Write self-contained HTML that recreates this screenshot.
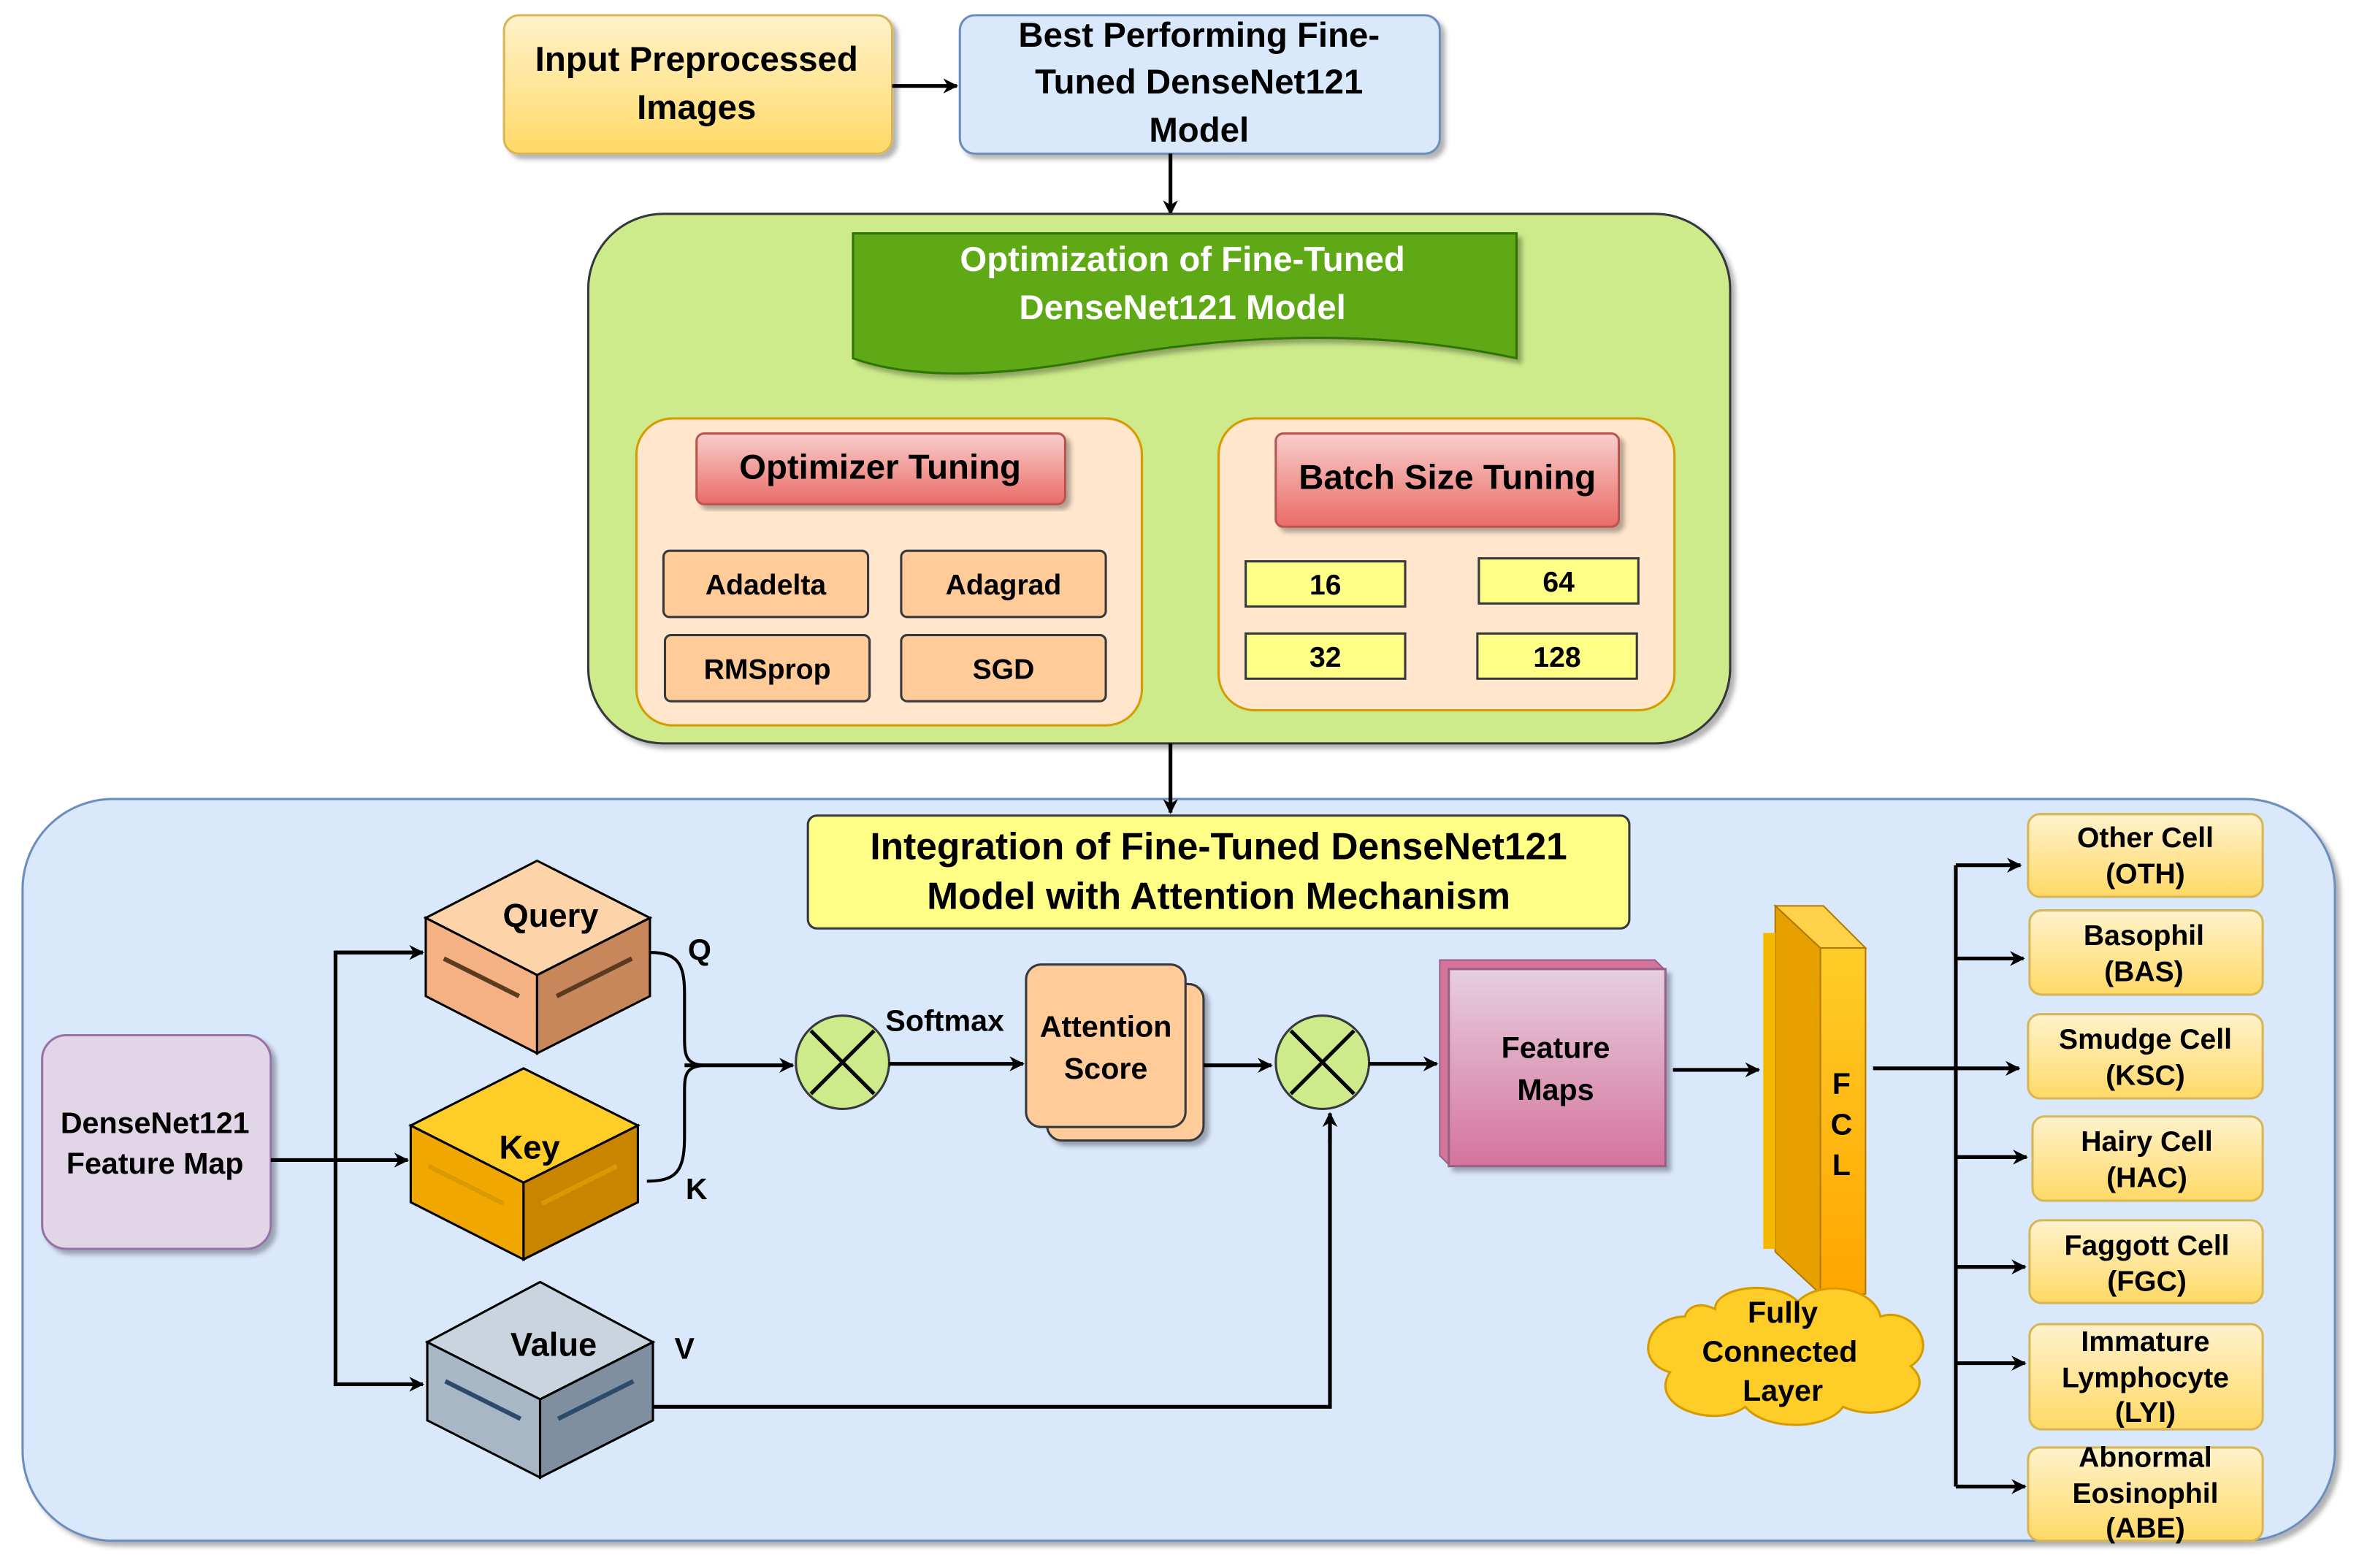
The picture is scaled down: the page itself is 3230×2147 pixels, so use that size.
<!DOCTYPE html>
<html><head><meta charset="utf-8"><style>html,body{margin:0;padding:0;background:#fff}svg{display:block}text{font-family:"Liberation Sans",Arial,sans-serif;font-weight:bold}</style></head><body>
<svg width="3230" height="2147" viewBox="0 0 1568 1042" xmlns="http://www.w3.org/2000/svg">
<defs>
<linearGradient id="yel" x1="0" y1="0" x2="0" y2="1"><stop offset="0" stop-color="#fff2cc"/><stop offset="1" stop-color="#ffd966"/></linearGradient>
<linearGradient id="red" x1="0" y1="0" x2="0" y2="1"><stop offset="0" stop-color="#f8cecc"/><stop offset="1" stop-color="#ea6b66"/></linearGradient>
<linearGradient id="pink" x1="0" y1="0" x2="0" y2="1"><stop offset="0" stop-color="#e6d0de"/><stop offset="1" stop-color="#d5739d"/></linearGradient>
<linearGradient id="org" x1="0" y1="0" x2="0" y2="1"><stop offset="0" stop-color="#ffcd28"/><stop offset="1" stop-color="#ffa500"/></linearGradient>
<marker id="ar" markerWidth="10" markerHeight="10" refX="9" refY="5" orient="auto" markerUnits="userSpaceOnUse"><path d="M0,0 L10,5 L0,10 L3,5 z" fill="#000"/></marker>
<filter id="sh"><feDropShadow dx="3" dy="3" stdDeviation="1.5" flood-color="#000" flood-opacity="0.3"/></filter>
</defs>
<g stroke="#000" stroke-width="2.5" fill="none">
<rect x="335" y="10" width="258" height="92" rx="10" fill="url(#yel)" stroke="#d6b656" stroke-width="1.5" filter="url(#sh)"/>
<rect x="638" y="10" width="319" height="92" rx="10" fill="#dae8fc" stroke="#6c8ebf" stroke-width="1.5" filter="url(#sh)"/>
<line x1="593" y1="57" x2="636" y2="57" marker-end="url(#ar)"/>
<line x1="778" y1="102" x2="778" y2="142" marker-end="url(#ar)"/>
<rect x="391" y="142" width="759" height="352" rx="50" fill="#cdeb8b" stroke="#36393d" stroke-width="1.5" filter="url(#sh)"/>
<path d="M567,155 H1008 V238 C900,215 800,225 720,240 C650,252 600,250 567,238 Z" fill="#60a917" stroke="#2d7600" stroke-width="1.5" filter="url(#sh)"/>
<rect x="423" y="278" width="336" height="204" rx="24" fill="#ffe6cc" stroke="#d79b00" stroke-width="1.5"/>
<rect x="463" y="288" width="245" height="47" rx="5" fill="url(#red)" stroke="#b85450" stroke-width="1.5" filter="url(#sh)"/>
<g fill="#ffcc99" stroke="#36393d" stroke-width="1.5">
<rect x="441" y="366" width="136" height="44" rx="4"/><rect x="599" y="366" width="136" height="44" rx="4"/>
<rect x="442" y="422" width="136" height="44" rx="4"/><rect x="599" y="422" width="136" height="44" rx="4"/></g>
<rect x="810" y="278" width="303" height="194" rx="24" fill="#ffe6cc" stroke="#d79b00" stroke-width="1.5"/>
<rect x="848" y="288" width="228" height="62" rx="5" fill="url(#red)" stroke="#b85450" stroke-width="1.5" filter="url(#sh)"/>
<g fill="#ffff88" stroke="#36393d" stroke-width="1.5">
<rect x="828" y="373" width="106" height="30"/><rect x="983" y="371" width="106" height="30"/>
<rect x="828" y="421" width="106" height="30"/><rect x="982" y="421" width="106" height="30"/></g>
<rect x="15" y="531" width="1537" height="493" rx="60" fill="#dae8fc" stroke="#6c8ebf" stroke-width="1.5" filter="url(#sh)"/>
<line x1="778" y1="494" x2="778" y2="540" marker-end="url(#ar)"/>
<rect x="537" y="542" width="546" height="75" rx="6" fill="#ffff88" stroke="#36393d" stroke-width="1.5"/>
<rect x="28" y="688" width="152" height="142" rx="16" fill="#e1d5e7" stroke="#9673a6" stroke-width="1.5" filter="url(#sh)"/>
<g stroke="#000" stroke-width="1.5">
<path d="M283,610 L357,572 L432,610 L357,648 Z" fill="#fdd3aa"/><path d="M283,610 L357,648 L357,700 L283,662 Z" fill="#f4b183"/><path d="M357,648 L432,610 L432,662 L357,700 Z" fill="#c8875a"/>
<path d="M273,748 L348,710 L424,748 L348,786 Z" fill="#ffcd28"/><path d="M273,748 L348,786 L348,837 L273,799 Z" fill="#f0a800"/><path d="M348,786 L424,748 L424,799 L348,837 Z" fill="#c98400"/>
<path d="M284,892 L359,852 L434,892 L359,930 Z" fill="#c9d4de"/><path d="M284,892 L359,930 L359,982 L284,944 Z" fill="#a8b7c5"/><path d="M359,930 L434,892 L434,944 L359,982 Z" fill="#7f8f9f"/>
</g>
<g stroke-width="3">
<line x1="295" y1="637" x2="345" y2="662" stroke="#5a3a20"/><line x1="370" y1="662" x2="420" y2="637" stroke="#5a3a20"/>
<line x1="285" y1="775" x2="335" y2="800" stroke="#d89a00"/><line x1="360" y1="800" x2="410" y2="775" stroke="#d89a00"/>
<line x1="296" y1="918" x2="346" y2="943" stroke="#2d4a6a"/><line x1="371" y1="943" x2="421" y2="918" stroke="#2d4a6a"/>
</g>
<line x1="180" y1="771" x2="271" y2="771" marker-end="url(#ar)"/>
<polyline points="281,633 223,633 223,920 281,920" fill="none"/>
<line x1="223" y1="633" x2="281" y2="633" marker-end="url(#ar)"/>
<line x1="223" y1="920" x2="281" y2="920" marker-end="url(#ar)"/>
<path d="M432,633 C450,633 455,640 455,660 V690 C455,702 456,708 470,708 M430,785 C450,785 455,778 455,755 V725 C455,714 456,708 470,708" stroke-width="2"/>
<line x1="455" y1="708" x2="527" y2="708" marker-end="url(#ar)"/>
<circle cx="560" cy="706" r="31" fill="#cdeb8b" stroke="#36393d" stroke-width="1.5"/>
<path d="M539,685 L581,727 M581,685 L539,727" stroke-width="2.5"/>
<line x1="591" y1="707" x2="680" y2="707" marker-end="url(#ar)"/>
<rect x="696" y="654" width="104" height="104" rx="10" fill="#ffcc99" stroke="#36393d" stroke-width="1.5" filter="url(#sh)"/>
<rect x="682" y="641" width="106" height="108" rx="10" fill="#ffcc99" stroke="#36393d" stroke-width="1.5"/>
<line x1="800" y1="708" x2="845" y2="708" marker-end="url(#ar)"/>
<circle cx="879" cy="706" r="31" fill="#cdeb8b" stroke="#36393d" stroke-width="1.5"/>
<path d="M858,685 L900,727 M900,685 L858,727" stroke-width="2.5"/>
<line x1="910" y1="707" x2="955" y2="707" marker-end="url(#ar)"/>
<polyline points="434,935 884,935 884,740" fill="none"/>
<line x1="884" y1="760" x2="884" y2="740" marker-end="url(#ar)"/>
<path d="M957,638 H1100 L1107,645 V775 H964 L957,768 Z" fill="#d5739d" stroke="#996185" stroke-width="1"/>
<rect x="963" y="644" width="144" height="131" fill="url(#pink)" stroke="#996185" stroke-width="1.5" filter="url(#sh)"/>
<line x1="1112" y1="711" x2="1169" y2="711" marker-end="url(#ar)"/>
<path d="M1180,602 L1210,630 V860 L1180,832 Z" fill="#e6a100" stroke="#b47800" stroke-width="1"/>
<path d="M1180,602 H1212 L1240,630 H1210 Z" fill="#ffd24a" stroke="#b47800" stroke-width="1"/>
<rect x="1210" y="630" width="30" height="230" fill="url(#org)" stroke="#b47800" stroke-width="1"/>
<rect x="1172" y="620" width="8" height="210" fill="#f5b800" stroke="none"/>
<path d="M1120,875 C1095,875 1085,905 1110,912 C1095,935 1140,950 1160,935 C1175,952 1215,950 1225,935 C1255,948 1290,925 1270,908 C1290,895 1270,868 1250,875 C1245,855 1210,850 1195,865 C1180,850 1140,855 1140,870 C1130,865 1122,868 1120,875 Z" fill="#ffcd28" stroke="#d79b00" stroke-width="1.5"/>
<line x1="1245" y1="710" x2="1342" y2="710" marker-end="url(#ar)"/>
<line x1="1300" y1="575" x2="1300" y2="988"/>
<g>
<line x1="1300" y1="575" x2="1343" y2="575" marker-end="url(#ar)"/>
<line x1="1300" y1="637" x2="1345" y2="637" marker-end="url(#ar)"/>
<line x1="1300" y1="769" x2="1347" y2="769" marker-end="url(#ar)"/>
<line x1="1300" y1="842" x2="1346" y2="842" marker-end="url(#ar)"/>
<line x1="1300" y1="906" x2="1346" y2="906" marker-end="url(#ar)"/>
<line x1="1300" y1="988" x2="1346" y2="988" marker-end="url(#ar)"/>
</g>
<g fill="url(#yel)" stroke="#d6b656" stroke-width="1.5">
<rect x="1348" y="541" width="156" height="55" rx="8"/><rect x="1349" y="605" width="155" height="56" rx="8"/>
<rect x="1348" y="674" width="156" height="56" rx="8"/><rect x="1351" y="742" width="153" height="56" rx="8"/>
<rect x="1349" y="811" width="155" height="55" rx="8"/><rect x="1349" y="880" width="155" height="70" rx="8"/>
<rect x="1348" y="962" width="156" height="62" rx="8"/></g>
</g>
<g text-anchor="middle" fill="#000" font-size="23">
<text x="463" y="47">Input Preprocessed</text><text x="463" y="79">Images</text>
<text x="797" y="31">Best Performing Fine-</text><text x="797" y="62">Tuned DenseNet121</text><text x="797" y="94">Model</text>
<text x="786" y="180" fill="#fff">Optimization of Fine-Tuned</text><text x="786" y="212" fill="#fff">DenseNet121 Model</text>
<text x="585" y="318">Optimizer Tuning</text><text x="962" y="325">Batch Size Tuning</text>
<g font-size="19"><text x="509" y="395">Adadelta</text><text x="667" y="395">Adagrad</text><text x="510" y="451">RMSprop</text><text x="667" y="451">SGD</text>
<text x="881" y="395">16</text><text x="1036" y="393">64</text><text x="881" y="443">32</text><text x="1035" y="443">128</text></g>
<text x="810" y="571" font-size="25">Integration of Fine-Tuned DenseNet121</text><text x="810" y="604" font-size="25">Model with Attention Mechanism</text>
<g font-size="20"><text x="103" y="753">DenseNet121</text><text x="103" y="780">Feature Map</text>
<text x="366" y="616" font-size="22">Query</text><text x="352" y="770" font-size="22">Key</text><text x="368" y="901" font-size="22">Value</text>
<text x="465" y="638">Q</text><text x="463" y="797">K</text><text x="455" y="903">V</text>
<text x="628" y="685">Softmax</text><text x="735" y="689">Attention</text><text x="735" y="717">Score</text>
<text x="1034" y="703">Feature</text><text x="1034" y="731">Maps</text>
<text x="1224" y="727">F</text><text x="1224" y="754">C</text><text x="1224" y="781">L</text>
<text x="1185" y="879">Fully</text><text x="1183" y="905">Connected</text><text x="1185" y="931">Layer</text></g>
<g font-size="19"><text x="1426" y="563">Other Cell</text><text x="1426" y="587">(OTH)</text>
<text x="1425" y="628">Basophil</text><text x="1425" y="652">(BAS)</text>
<text x="1426" y="697">Smudge Cell</text><text x="1426" y="721">(KSC)</text>
<text x="1427" y="765">Hairy Cell</text><text x="1427" y="789">(HAC)</text>
<text x="1427" y="834">Faggott Cell</text><text x="1427" y="858">(FGC)</text>
<text x="1426" y="898">Immature</text><text x="1426" y="922">Lymphocyte</text><text x="1426" y="945">(LYI)</text>
<text x="1426" y="975">Abnormal</text><text x="1426" y="999">Eosinophil</text><text x="1426" y="1022">(ABE)</text></g>
</g>
</svg>
</body></html>
